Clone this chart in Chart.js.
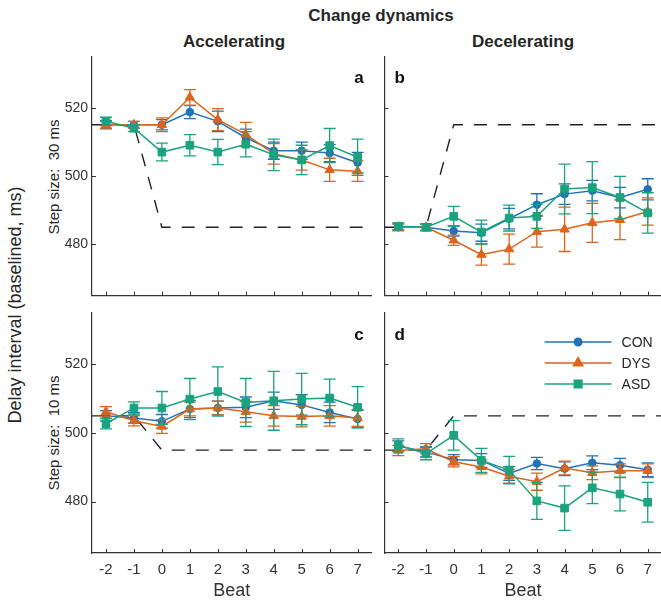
<!DOCTYPE html>
<html>
<head>
<meta charset="utf-8">
<script src="https://cdn.jsdelivr.net/npm/chart.js@4.4.1/dist/chart.umd.min.js"></script>
<style>
  body { margin: 0; width: 661px; height: 604px; overflow: hidden; background: #fff; position: relative;
         font-family: "Liberation Sans", Arial, sans-serif; color: #262626; }
  canvas { position: absolute; }
  .head { position: absolute; font-weight: bold; white-space: nowrap; transform: translateX(-50%); }
  .vlab { position: absolute; white-space: nowrap; transform: translate(-50%, -50%) rotate(-90deg); }
</style>
</head>
<body>
<div class="head" style="left:381px; top:6px; font-size:17px;">Change dynamics</div>
<div class="head" style="left:234px; top:32px; font-size:17px;">Accelerating</div>
<div class="head" style="left:523px; top:32px; font-size:17px;">Decelerating</div>
<div class="vlab" style="left:15px; top:305px; font-size:18px;">Delay interval (baselined, ms)</div>
<div class="vlab" style="left:53px; top:177px; font-size:15px;">Step size:&nbsp; 30 ms</div>
<div class="vlab" style="left:53px; top:433px; font-size:15px;">Step size:&nbsp; 10 ms</div>

<canvas id="pa" width="378" height="252" style="left:0; top:50px;"></canvas>
<canvas id="pb" width="290" height="252" style="left:378px; top:50px;"></canvas>
<canvas id="pc" width="378" height="302" style="left:0; top:302px;"></canvas>
<canvas id="pd" width="290" height="302" style="left:378px; top:302px;"></canvas>

<script>
// data
const groups = ['CON', 'DYS', 'ASD'];
const beats = [-2, -1, 0, 1, 2, 3, 4, 5, 6, 7];
const yTicks = [480, 500, 520];
const stepBeats = [-2.5, -1, 0, 7.5];

// step size 30 ms, accelerating
const step30acc = [515, 515, 485, 485];
const con30acc = [515, 515, 515, 518.7, 516, 511.2, 507.4, 507.4, 506.7, 503.9];
const dys30acc = [515, 515, 515, 523, 516.5, 512.2, 506.5, 504.7, 501.8, 501.4];
const asd30acc = [516, 514, 507, 509, 507, 509.3, 506.2, 504.7, 508.9, 505.5];
const conErr30acc = [1.2, 1, 1.5, 1.9, 3, 2.5, 2.5, 2.5, 2.5, 3];
const dysErr30acc = [1, 1, 2, 2.3, 3.2, 3.5, 3, 3, 3.4, 3];
const asdErr30acc = [1.2, 1, 2.6, 3.1, 3.7, 3.7, 4.6, 4.3, 5, 5.3];

// step size 30 ms, decelerating
const step30dec = [485, 485, 515, 515];
const con30dec = [485, 485, 483.9, 483.4, 487.5, 491.6, 494.7, 495.7, 493.7, 496.1];
const dys30dec = [485, 485, 481.2, 477, 478.6, 483.7, 484.4, 486.3, 487.2, 489.6];
const asd30dec = [485.3, 485, 488.2, 483.6, 487.7, 488.2, 496.2, 496.6, 493.7, 489.2];
const conErr30dec = [1, 1, 1.5, 2.5, 3, 3.2, 3, 3, 3, 3.1];
const dysErr30dec = [1, 1, 1.5, 3.1, 4.4, 4.5, 6.5, 5.7, 5.8, 4];
const asdErr30dec = [1, 1, 2.9, 3.5, 3.8, 3.5, 7.3, 7.6, 6.2, 5.9];

// step size 10 ms, accelerating
const step10acc = [505, 505, 495, 495];
const con10acc = [505, 504.4, 503.4, 507, 507.3, 507.5, 509.4, 508.2, 506, 504.1];
const dys10acc = [506.2, 503.6, 501.9, 507, 507.3, 506.2, 505, 504.8, 505, 504.4];
const asd10acc = [502.7, 507.3, 507.3, 509.9, 512.1, 508.9, 509.4, 509.9, 510.2, 507.5];
const conErr10acc = [1.5, 1.5, 2, 2.5, 2, 3, 2.5, 3, 3, 2.5];
const dysErr10acc = [1.5, 1.5, 2, 2, 2, 3, 3, 3, 3, 2.5];
const asdErr10acc = [1.5, 1.8, 4.8, 6, 7.2, 7, 8.6, 7.5, 5.5, 6];

// step size 10 ms, decelerating
const step10dec = [495, 495, 505, 505];
const con10dec = [496.2, 494.5, 492.2, 492, 488.2, 491.1, 489.6, 491.3, 490.6, 489.3];
const dys10dec = [494.9, 495.4, 491.6, 490.1, 487.4, 485.8, 489.8, 488.4, 489, 489];
const asd10dec = [496.4, 494, 499.3, 492, 489.2, 480.2, 478.1, 484, 482.2, 479.8];
const conErr10dec = [1.5, 1.5, 1.5, 2, 2, 1.8, 2, 2, 2, 2];
const dysErr10dec = [1.5, 1.5, 1.5, 2, 2, 2.5, 2, 2, 2, 2];
const asdErr10dec = [1.9, 1.8, 4.3, 3.5, 4, 5.4, 6.5, 4.6, 4.9, 5.8];

// styles
const colors = ['#2272B5', '#D9651F', '#1BA27E'];
const shapes = ['circle', 'triangle', 'rect'];
const radii = [3.8, 5.4, 5.4];
const axisColor = '#333';

Chart.defaults.font.family = '"Liberation Sans", Arial, sans-serif';
Chart.defaults.color = '#262626';

// error bars drawn under each series
const errorBars = {
  id: 'errorBars',
  beforeDatasetDraw(chart, args) {
    const ds = chart.data.datasets[args.index];
    if (!ds.errors) return;
    const { x, y } = chart.scales;
    const ctx = chart.ctx;
    ctx.save();
    ctx.strokeStyle = ds.borderColor;
    ctx.lineWidth = 1.3;
    ctx.beginPath();
    ds.data.forEach((p, i) => {
      const px = x.getPixelForValue(p.x);
      const top = y.getPixelForValue(p.y + ds.errors[i]);
      const bot = y.getPixelForValue(p.y - ds.errors[i]);
      ctx.moveTo(px, top); ctx.lineTo(px, bot);
      ctx.moveTo(px - 6, top); ctx.lineTo(px + 6, top);
      ctx.moveTo(px - 6, bot); ctx.lineTo(px + 6, bot);
    });
    ctx.stroke();
    ctx.restore();
  }
};

// inward ticks, panel letter, legend
const decorations = {
  id: 'decorations',
  afterDraw(chart, args, opts) {
    const { ctx, chartArea: a, scales: { x, y } } = chart;
    ctx.save();
    ctx.strokeStyle = axisColor;
    ctx.lineWidth = 1;
    ctx.beginPath();
    x.ticks.forEach(t => {
      const px = Math.round(x.getPixelForValue(t.value)) + 0.5;
      ctx.moveTo(px, a.bottom); ctx.lineTo(px, a.bottom - 4);
    });
    y.ticks.forEach(t => {
      const py = Math.round(y.getPixelForValue(t.value)) + 0.5;
      ctx.moveTo(a.left, py); ctx.lineTo(a.left + 4, py);
    });
    ctx.stroke();

    ctx.fillStyle = '#111';
    ctx.font = 'bold 17px "Liberation Sans", Arial, sans-serif';
    ctx.textBaseline = 'middle';
    if (opts.side === 'right') {
      ctx.textAlign = 'right';
      ctx.fillText(opts.letter, a.right - 8, a.top + 22);
    } else {
      ctx.textAlign = 'left';
      ctx.fillText(opts.letter, a.left + 10, a.top + 22);
    }

    if (opts.legend) {
      ctx.font = '14px "Liberation Sans", Arial, sans-serif';
      ctx.textAlign = 'left';
      groups.forEach((g, i) => {
        const yy = a.top + 29 + i * 21;
        const x0 = a.right - 117, x1 = a.right - 50;
        ctx.strokeStyle = colors[i];
        ctx.lineWidth = 1.5;
        ctx.beginPath(); ctx.moveTo(x0, yy); ctx.lineTo(x1, yy); ctx.stroke();
        ctx.fillStyle = colors[i];
        Chart.helpers.drawPoint(ctx, { pointStyle: shapes[i], radius: radii[i], rotation: 0, borderWidth: 1 }, (x0 + x1) / 2, yy);
        ctx.fill();
        ctx.fillStyle = '#262626';
        ctx.fillText(g, a.right - 40, yy + 1);
      });
    }
    ctx.restore();
  }
};

function series(vals, errs, i) {
  return {
    label: groups[i],
    data: beats.map((b, k) => ({ x: b, y: vals[k] })),
    errors: errs,
    borderColor: colors[i],
    backgroundColor: colors[i],
    borderWidth: 1.5,
    pointStyle: shapes[i],
    pointRadius: radii[i],
    pointBackgroundColor: colors[i],
    pointBorderColor: colors[i],
    pointBorderWidth: 1,
    order: 3 - i
  };
}

function noPad(s) {
  s.paddingTop = 0; s.paddingBottom = 0; s.paddingLeft = 0; s.paddingRight = 0;
}

function makePanel(id, box, area, showX, showY, letter, side, legend, step, con, dys, asd, ce, de, ae) {
  new Chart(document.getElementById(id), {
    type: 'line',
    data: {
      datasets: [
        {
          label: 'step',
          data: stepBeats.map((b, k) => ({ x: b, y: step[k] })),
          borderColor: '#222',
          borderWidth: 1.4,
          borderDash: [13, 11],
          pointRadius: 0,
          order: 10
        },
        series(con, ce, 0),
        series(dys, de, 1),
        series(asd, ae, 2)
      ]
    },
    options: {
      responsive: false,
      animation: false,
      layout: { padding: { top: area.top - box.top, right: box.left + box.w - area.right, left: 0, bottom: 0 } },
      plugins: {
        legend: { display: false },
        tooltip: { enabled: false },
        decorations: { letter: letter, side: side, legend: legend }
      },
      scales: {
        x: {
          type: 'linear', min: -2.5, max: 7.5,
          afterBuildTicks: s => { s.ticks = beats.map(v => ({ value: v })); },
          afterFit: s => { s.height = box.top + box.h - area.bottom; noPad(s); },
          grid: { display: false, drawTicks: false },
          border: { display: true, color: axisColor, width: 1.2 },
          ticks: { display: showX, padding: 8, font: { size: 15 }, color: '#333', autoSkip: false, maxRotation: 0 },
          title: { display: showX, text: 'Beat', font: { size: 18 }, color: '#333', padding: { top: 0, bottom: 2 } }
        },
        y: {
          type: 'linear', min: 465, max: 535,
          afterBuildTicks: s => { s.ticks = yTicks.map(v => ({ value: v })); },
          afterFit: s => { s.width = area.left - box.left; noPad(s); },
          grid: { display: false, drawTicks: false },
          border: { display: true, color: axisColor, width: 1.2 },
          ticks: { display: showY, padding: 4, font: { size: 14 }, color: '#333' }
        }
      }
    },
    plugins: [errorBars, decorations]
  });
}

makePanel('pa', { left: 0, top: 50, w: 378, h: 252 }, { left: 92, top: 56, right: 376, bottom: 298 },
  false, true, 'a', 'right', false, step30acc, con30acc, dys30acc, asd30acc, conErr30acc, dysErr30acc, asdErr30acc);
makePanel('pb', { left: 378, top: 50, w: 290, h: 252 }, { left: 381, top: 56, right: 665, bottom: 298 },
  false, false, 'b', 'left', false, step30dec, con30dec, dys30dec, asd30dec, conErr30dec, dysErr30dec, asdErr30dec);
makePanel('pc', { left: 0, top: 302, w: 378, h: 302 }, { left: 92, top: 313, right: 376, bottom: 553 },
  true, true, 'c', 'right', false, step10acc, con10acc, dys10acc, asd10acc, conErr10acc, dysErr10acc, asdErr10acc);
makePanel('pd', { left: 378, top: 302, w: 290, h: 302 }, { left: 381, top: 313, right: 665, bottom: 553 },
  true, false, 'd', 'left', true, step10dec, con10dec, dys10dec, asd10dec, conErr10dec, dysErr10dec, asdErr10dec);
</script>
</body>
</html>
